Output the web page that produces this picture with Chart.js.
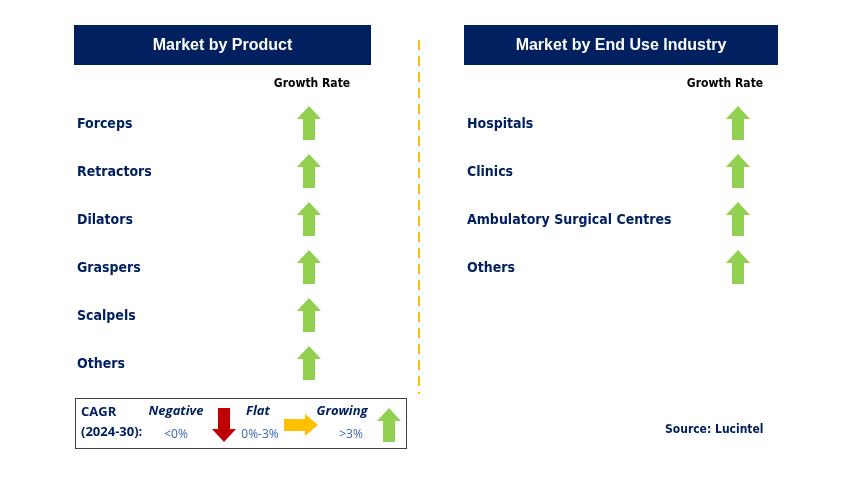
<!DOCTYPE html>
<html><head><meta charset="utf-8">
<script src="https://cdn.jsdelivr.net/npm/chart.js@4.4.0/dist/chart.umd.min.js"></script>
<style>html,body{margin:0;padding:0;background:#fff}#wrap{width:842px;height:494px}</style>
</head><body><div id="wrap"><canvas id="c" width="842" height="494"></canvas></div>
<script>
// ---- data ----
const productCategories = ['Forceps','Retractors','Dilators','Graspers','Scalpels','Others'];
const productGrowth = ['Growing','Growing','Growing','Growing','Growing','Growing'];
const endUseCategories = ['Hospitals','Clinics','Ambulatory Surgical Centres','Others'];
const endUseGrowth = ['Growing','Growing','Growing','Growing'];
const legendLevels = ['Negative','Flat','Growing'];
const legendRanges = ['<0%','0%-3%','>3%'];
const panelTitles = ['Market by Product','Market by End Use Industry'];
const columnTitle = 'Growth Rate';
const cagrLabel = ['CAGR','(2024-30):'];
const sourceText = 'Source: Lucintel';

// ---- layout (in canvas units) ----
const W = 842, H = 494;
const rowY = i => 123 + i * 48;
const NAVY = '#002060';
const LBL = '"DejaVu Sans Condensed", "DejaVu Sans", Tahoma, sans-serif';

function arrowCanvas(dir, color){
  const c = document.createElement('canvas');
  const w = dir === 'right' ? 36 : 26, h = dir === 'right' ? 22 : 36;
  c.width = w; c.height = h;
  const g = c.getContext('2d');
  g.fillStyle = color;
  g.beginPath();
  if (dir === 'up'){
    g.moveTo(13,1); g.lineTo(25,14); g.lineTo(19,14); g.lineTo(19,35); g.lineTo(7,35); g.lineTo(7,14); g.lineTo(1,14);
  } else if (dir === 'down'){
    g.moveTo(13,35); g.lineTo(25,22); g.lineTo(19,22); g.lineTo(19,1); g.lineTo(7,1); g.lineTo(7,22); g.lineTo(1,22);
  } else {
    g.moveTo(35,11); g.lineTo(22,0); g.lineTo(22,5); g.lineTo(1,5); g.lineTo(1,17); g.lineTo(22,17); g.lineTo(22,22);
  }
  g.closePath(); g.fill();
  return c;
}
const arrowFor = {
  'Growing': arrowCanvas('up', '#92D050'),
  'Flat': arrowCanvas('right', '#FFC000'),
  'Negative': arrowCanvas('down', '#C00000')
};

const productPts = productCategories.map((c,i)=>({x:309, y:rowY(i), g:productGrowth[i]}));
const endUsePts = endUseCategories.map((c,i)=>({x:738, y:rowY(i), g:endUseGrowth[i]}));
const legendX = [224, 301, 389];
const legendPts = legendLevels.map((l,i)=>({x:legendX[i], y:425, g:l}));

const styleFn = ctx => arrowFor[ctx.raw.g];

const textPlugin = {
  id: 'infographic',
  beforeDatasetsDraw(chart){
    const g = chart.ctx, xs = chart.scales.x, ys = chart.scales.y;
    const X = v => xs.getPixelForValue(v), Y = v => ys.getPixelForValue(v);
    g.save();
    // header boxes
    g.fillStyle = NAVY;
    g.fillRect(X(74), Y(25), X(371)-X(74), Y(65)-Y(25));
    g.fillRect(X(464), Y(25), X(778)-X(464), Y(65)-Y(25));
    g.fillStyle = '#fff';
    g.font = 'bold 16px "Liberation Sans", Arial, sans-serif';
    g.textAlign = 'center'; g.textBaseline = 'middle';
    g.fillText(panelTitles[0], X(222.5), Y(45.5));
    g.fillText(panelTitles[1], X(621), Y(45.5));
    // column titles
    g.fillStyle = '#000';
    g.font = 'bold 12px ' + LBL;
    g.fillText(columnTitle, X(312), Y(84));
    g.fillText(columnTitle, X(725), Y(84));
    // divider
    g.strokeStyle = '#FFC000'; g.lineWidth = 2; g.setLineDash([10,6]);
    g.beginPath(); g.moveTo(X(419), Y(40)); g.lineTo(X(419), Y(394)); g.stroke();
    g.setLineDash([]);
    // category labels
    g.fillStyle = NAVY; g.textAlign = 'left';
    g.font = 'bold 14px ' + LBL;
    productCategories.forEach((c,i)=>g.fillText(c, X(77), Y(rowY(i)+1)));
    endUseCategories.forEach((c,i)=>g.fillText(c, X(467), Y(rowY(i)+1)));
    // legend box
    g.strokeStyle = '#404040'; g.lineWidth = 1;
    g.strokeRect(X(75)+0.5, Y(398)+0.5, X(406)-X(75), Y(448)-Y(398));
    g.fillStyle = NAVY; g.font = 'bold 13px "Open Sans", Calibri, sans-serif';
    g.fillText(cagrLabel[0], X(81), Y(412));
    g.fillText(cagrLabel[1], X(81), Y(432));
    g.textAlign = 'center';
    g.font = 'italic bold 13px "Open Sans", Calibri, sans-serif';
    const lvlX = [176, 258, 342], rngX = [176, 260, 351];
    legendLevels.forEach((l,i)=>g.fillText(l, X(lvlX[i]), Y(411)));
    g.fillStyle = '#3B64AD'; g.font = '12px "Open Sans", Calibri, sans-serif';
    legendRanges.forEach((r,i)=>g.fillText(r, X(rngX[i]), Y(435)));
    // source
    g.fillStyle = NAVY; g.textAlign = 'left';
    g.font = 'bold 12px ' + LBL;
    g.fillText(sourceText, X(665), Y(430));
    g.restore();
  }
};

new Chart(document.getElementById('c'), {
  type: 'scatter',
  data: { datasets: [
    { label:'Product', data: productPts, pointStyle: styleFn, pointRadius: 18 },
    { label:'End Use', data: endUsePts, pointStyle: styleFn, pointRadius: 18 },
    { label:'Legend', data: legendPts, pointStyle: styleFn, pointRadius: 18 }
  ]},
  options: {
    responsive: false, animation: false,
    layout: { padding: 0, autoPadding: false },
    plugins: { legend: { display:false }, tooltip: { enabled:false } },
    events: [],
    scales: {
      x: { type:'linear', min:0, max:W, display:false },
      y: { type:'linear', min:0, max:H, reverse:true, display:false }
    }
  },
  plugins: [textPlugin]
});
</script>
</body></html>
